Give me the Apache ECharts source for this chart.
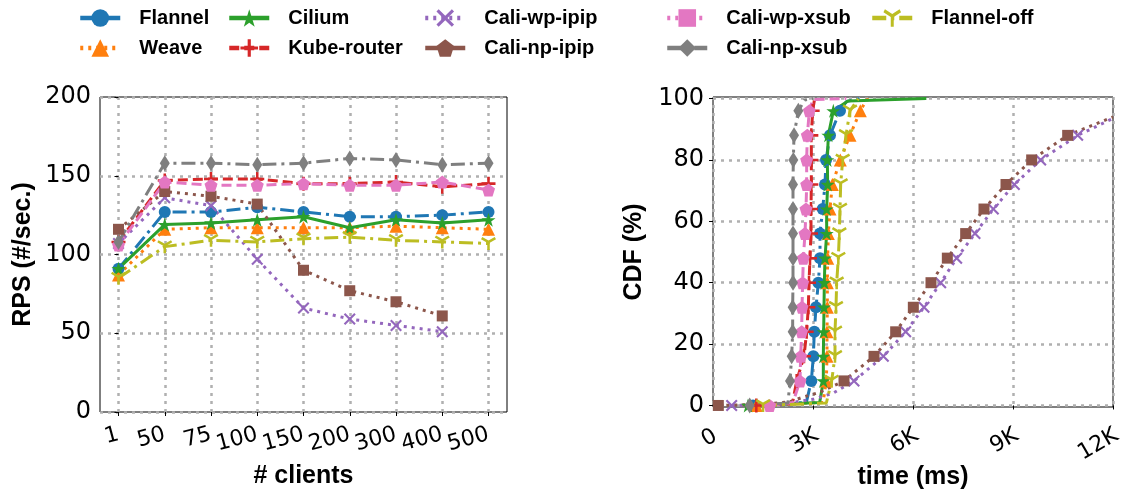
<!DOCTYPE html>
<html lang="en">
<head>
<meta charset="UTF-8">
<title>RPS vs clients / latency CDF</title>
<style>html,body{margin:0;padding:0;background:#fff;}</style>
</head>
<body>
<div id="main" style="width:1133px;height:495px;"></div>
<script src="https://cdn.jsdelivr.net/npm/echarts@6/dist/echarts.min.js"></script>
<script>
// ---- data (left: RPS per client count) ----
const clients = ['1', '50', '75', '100', '150', '200', '300', '400', '500'];
const rpsFlannel    = [91, 127, 127, 130, 127, 124, 124, 125, 127];
const rpsWeave      = [87, 116, 117, 117, 117, 117, 118, 117, 116];
const rpsCilium     = [91, 119, 120, 122, 124, 117, 122, 120, 122];
const rpsKube       = [108, 147, 148, 148, 145, 145, 146, 143, 145];
const rpsWpIpip     = [107, 136, 131, 97, 66, 59, 55, 51];
const rpsNpIpip     = [116, 140, 137, 132, 90, 77, 70, 61];
const rpsWpXsub     = [106, 146, 144, 144, 145, 144, 144, 146, 141];
const rpsNpXsub     = [108, 158, 158, 157, 158, 161, 160, 157, 158];
const rpsFlannelOff = [85, 105, 109, 108, 110, 111, 109, 108, 107];

// ---- data (right: latency CDF, [ms, %]) ----
const cdfFlannel = [[1200,0],[2800,1],[2950,8],[3010,16],[3040,24],[3090,32],[3160,40],[3210,48],[3210,56],[3290,64],[3360,72],[3390,80],[3510,88],[3810,96],[4000,99],[4400,100]];
const cdfWeave = [[1300,0],[3300,1],[3400,8],[3420,16],[3420,24],[3430,32],[3430,40],[3440,48],[3460,56],[3510,64],[3580,72],[3820,80],[4110,88],[4420,96],[4600,99.5],[4800,100]];
const cdfCilium = [[1050,0],[3200,1],[3310,8],[3310,16],[3320,24],[3330,32],[3340,40],[3360,48],[3410,56],[3410,64],[3440,72],[3430,80],[3460,88],[3610,96],[4050,99.2],[6400,100]];
const cdfKube = [[1300,0],[2300,0.5],[2400,1.6],[2510,8],[2730,16],[2810,24],[2860,32],[2880,40],[2910,48],[2940,56],[2940,64],[2950,72],[2950,80],[2950,88],[2990,96],[3050,100]];
const cdfWpIpip = [[560,0],[2000,0.4],[3000,2],[3600,4],[4230,8],[5110,16],[5780,24],[6330,32],[6830,40],[7310,48],[7860,56],[8410,64],[9040,72],[9830,80],[10940,88],[12000,93.5]];
const cdfNpIpip = [[160,0],[1500,0.4],[2300,1.2],[2700,2.7],[3200,4.3],[3930,8],[4830,16],[5480,24],[6010,32],[6540,40],[7030,48],[7580,56],[8130,64],[8790,72],[9560,80],[10640,88],[12000,94]];
const cdfWpXsub = [[1700,0],[2400,1],[2610,8],[2630,16],[2660,24],[2670,32],[2690,40],[2710,48],[2760,56],[2790,64],[2810,72],[2810,80],[2830,88],[2890,96],[3000,99.7],[4000,100]];
const cdfNpXsub = [[1100,0],[2250,0.8],[2310,8],[2360,16],[2390,24],[2390,32],[2400,40],[2400,48],[2400,56],[2400,64],[2400,72],[2410,80],[2430,88],[2560,96],[2750,99.5],[3000,100]];
const cdfFlannelOff = [[1500,0],[3400,0.8],[3560,8],[3660,16],[3660,24],[3690,32],[3710,40],[3760,48],[3790,56],[3810,64],[3830,72],[3890,80],[3990,88],[4110,96],[4360,100]];

const names = ['Flannel', 'Weave', 'Cilium', 'Kube-router', 'Cali-wp-ipip', 'Cali-np-ipip', 'Cali-wp-xsub', 'Cali-np-xsub', 'Flannel-off'];
const rpsData = [rpsFlannel, rpsWeave, rpsCilium, rpsKube, rpsWpIpip, rpsNpIpip, rpsWpXsub, rpsNpXsub, rpsFlannelOff];
const cdfData = [cdfFlannel, cdfWeave, cdfCilium, cdfKube, cdfWpIpip, cdfNpIpip, cdfWpXsub, cdfNpXsub, cdfFlannelOff];

// ---- marker shapes (matplotlib-like) ----
const STAR = 'path://M0,-10L2.245,-3.09L9.51,-3.09L3.633,1.18L5.88,8.09L0,3.82L-5.88,8.09L-3.633,1.18L-9.51,-3.09L-2.245,-3.09Z';
const PENTA = 'path://M0,-10L9.51,-3.09L5.88,8.09L-5.88,8.09L-9.51,-3.09Z';
const PLUS = 'path://M-1.8,-10L1.8,-10L1.8,-1.8L10,-1.8L10,1.8L1.8,1.8L1.8,10L-1.8,10L-1.8,1.8L-10,1.8L-10,-1.8L-1.8,-1.8Z';
const CROSS = 'path://M-10,-7.5L-7.5,-10L0,-2.5L7.5,-10L10,-7.5L2.5,0L10,7.5L7.5,10L0,2.5L-7.5,10L-10,7.5L-2.5,0Z';
const TRIDOWN = 'path://M1.6,10L-1.6,10L-1.6,0.92L-9.46,-3.61L-7.86,-6.39L0,-1.85L7.86,-6.39L9.46,-3.61L1.6,0.92Z';

const DASHDOT = [14, 5, 3, 5];
const DASHED = [10, 5];
const DOTTED = [3, 5];

const looks = {
    'Flannel':      { color: '#1f77b4', type: DASHDOT, symbol: 'circle', size: 12 },
    'Weave':        { color: '#ff7f0e', type: DOTTED, symbol: 'triangle', size: 13 },
    'Cilium':       { color: '#2ca02c', type: 'solid', symbol: STAR, size: 14 },
    'Kube-router':  { color: '#d62728', type: DASHED, symbol: PLUS, size: 14 },
    'Cali-wp-ipip': { color: '#9467bd', type: DOTTED, symbol: CROSS, size: 12 },
    'Cali-np-ipip': { color: '#8c564b', type: DOTTED, symbol: 'rect', size: 11 },
    'Cali-wp-xsub': { color: '#e377c2', type: DASHED, symbol: PENTA, size: 13 },
    'Cali-np-xsub': { color: '#7f7f7f', type: DASHDOT, symbol: 'diamond', size: [10, 16] },
    'Flannel-off':  { color: '#bcbd22', type: DASHDOT, symbol: TRIDOWN, size: [15, 13] }
};

const tickFont = { fontFamily: 'DejaVu Sans', color: '#000' };
const titleFont = { fontFamily: 'Liberation Sans', fontWeight: 'bold', fontSize: 25, color: '#000' };
const gridLine = { show: true, lineStyle: { type: DOTTED, color: '#b0b0b0', width: 2.5 } };
const tick = { show: true, inside: false, length: 4, lineStyle: { color: '#000', width: 1 } };

let series = [];

// the legend shows these two with other looks than the plot, so give the legend its own (empty) series first
series.push({ name: 'Cali-np-ipip', type: 'line', xAxisIndex: 0, yAxisIndex: 0, data: [], symbol: PENTA,
    itemStyle: { color: '#8c564b' }, lineStyle: { color: '#8c564b', width: 3, type: 'solid' } });
series.push({ name: 'Cali-wp-xsub', type: 'line', xAxisIndex: 0, yAxisIndex: 0, data: [], symbol: 'rect',
    itemStyle: { color: '#e377c2' }, lineStyle: { color: '#e377c2', width: 3, type: DOTTED } });

names.forEach(function (name, k) {
    let lk = looks[name];
    series.push({
        name: name, type: 'line', xAxisIndex: 0, yAxisIndex: 0,
        data: rpsData[k].map(function (v, i) { return [i, v]; }),
        symbol: lk.symbol, symbolSize: lk.size, showSymbol: true,
        itemStyle: { color: lk.color },
        lineStyle: { color: lk.color, width: 3, type: lk.type, cap: 'butt' },
        emphasis: { disabled: true }
    });
});
names.forEach(function (name, k) {
    let lk = looks[name];
    series.push({
        name: name, type: 'line', xAxisIndex: 1, yAxisIndex: 1,
        data: cdfData[k].map(function (p) {
            return (p[1] % 8 === 0 && p[1] < 100) ? p : { value: p, symbol: 'none' };
        }),
        symbol: lk.symbol, symbolSize: lk.size, showSymbol: true,
        itemStyle: { color: lk.color },
        lineStyle: { color: lk.color, width: 3, type: lk.type, cap: 'butt' },
        emphasis: { disabled: true }
    });
});

const legendCols = [['Flannel', 'Weave'], ['Cilium', 'Kube-router'], ['Cali-wp-ipip', 'Cali-np-ipip'], ['Cali-wp-xsub', 'Cali-np-xsub'], ['Flannel-off']];
const legendLeft = [78, 227, 423, 665, 870];
let legends = legendCols.map(function (col, i) {
    return {
        data: col, left: legendLeft[i], top: 8, padding: 0, orient: 'vertical',
        itemWidth: 40, itemHeight: 22, itemGap: 10, selectedMode: false,
        lineStyle: { width: 4.5 },
        formatter: '{s|}{name}',
        textStyle: { fontFamily: 'Liberation Sans', fontWeight: 'bold', fontSize: 20, color: '#000',
            rich: { s: { width: 14 } } }
    };
});

const clientTicks = clients.map(function (c, i) { return i; });

// right-hand tick labels sit a bit left of their tick, more so for longer ones
const kFont = { fontFamily: 'DejaVu Sans', fontSize: 22, color: '#000' };
const kRich = {
    p1: Object.assign({ padding: [0, 8, 0, 0] }, kFont),
    p2: Object.assign({ padding: [0, 20, 0, 0] }, kFont),
    p3: Object.assign({ padding: [0, 34, 0, 0] }, kFont)
};

let chart = echarts.init(document.getElementById('main'), null, { renderer: 'canvas' });
chart.setOption({
    animation: false,
    backgroundColor: '#fff',
    legend: legends,
    grid: [
        { left: 100, right: 626, top: 97, bottom: 83, show: true, borderColor: '#000', borderWidth: 1,
          outerBoundsMode: 'none', containLabel: false },
        { left: 713, right: 20, top: 97, bottom: 88, show: true, borderColor: '#000', borderWidth: 1,
          outerBoundsMode: 'none', containLabel: false }
    ],
    xAxis: [
        {
            gridIndex: 0, type: 'value', min: -0.4, max: 8.4,
            axisLine: { show: false },
            axisTick: Object.assign({ customValues: clientTicks }, tick),
            axisLabel: Object.assign({ customValues: clientTicks, rotate: 15, margin: 22, fontSize: 22,
                formatter: function (v) { return clients[Math.round(v)]; } }, tickFont),
            splitLine: gridLine,
            name: '# clients', nameLocation: 'middle', nameGap: 52, nameMoveOverlap: false, nameTextStyle: titleFont
        },
        {
            gridIndex: 1, type: 'value', min: 0, max: 12000, interval: 3000,
            axisLine: { show: false },
            axisTick: tick,
            axisLabel: Object.assign({ rotate: 30, align: 'center', verticalAlign: 'middle', margin: 29, fontSize: 22,
                rich: kRich,
                formatter: function (v) {
                    let s = v === 0 ? '0' : (v / 1000) + 'K';
                    return '{p' + s.length + '|' + s + '}';
                } }, tickFont),
            splitLine: gridLine,
            name: 'time (ms)', nameLocation: 'middle', nameGap: 58, nameMoveOverlap: false, nameTextStyle: titleFont
        }
    ],
    yAxis: [
        {
            gridIndex: 0, type: 'value', min: 0, max: 200, interval: 50,
            axisLine: { show: false },
            axisTick: tick,
            axisLabel: Object.assign({ fontSize: 24, margin: 9 }, tickFont),
            splitLine: gridLine,
            name: 'RPS (#/sec.)', nameLocation: 'middle', nameGap: 64, nameMoveOverlap: false, nameTextStyle: titleFont
        },
        {
            gridIndex: 1, type: 'value', min: -0.5, max: 100.5,
            axisLine: { show: false },
            axisTick: Object.assign({ customValues: [0, 20, 40, 60, 80, 100] }, tick),
            axisLabel: Object.assign({ customValues: [0, 20, 40, 60, 80, 100], fontSize: 24, margin: 9 }, tickFont),
            splitLine: gridLine,
            name: 'CDF (%)', nameLocation: 'middle', nameGap: 66, nameMoveOverlap: false, nameTextStyle: titleFont
        }
    ],
    series: series
});
</script>
</body>
</html>
